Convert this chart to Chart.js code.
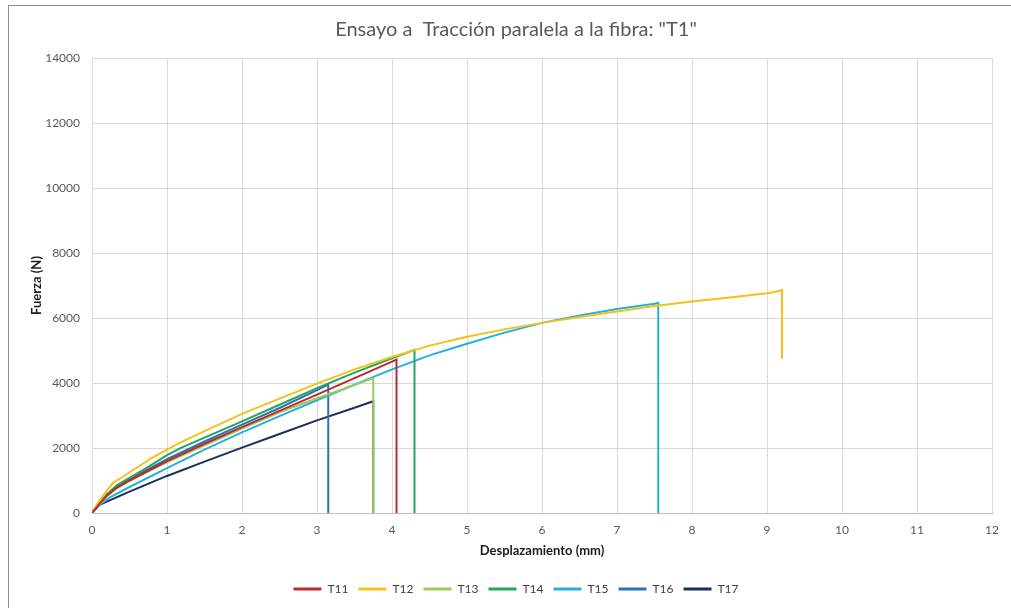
<!DOCTYPE html>
<html>
<head>
<meta charset="utf-8">
<title>Ensayo a Tracción paralela a la fibra</title>
<script src="https://cdn.jsdelivr.net/npm/chart.js@4.4.1/dist/chart.umd.min.js"></script>
<style>
    html, body { margin: 0; padding: 0; background: #fff; }
    #wrap { position: relative; width: 1011px; height: 608px; overflow: hidden; }
    #frame { position: absolute; left: 8px; top: 5px; width: 1020px; height: 620px; border: 1px solid #8c8c8c; box-sizing: border-box; }
    #chartBox { position: absolute; left: 0; top: 0; width: 1011px; height: 608px; }
</style>
</head>
<body>
<div id="wrap">
    <div id="frame"></div>
    <div id="chartBox"><canvas id="traccionChart"></canvas></div>
</div>
<script>
// Datos (desplazamiento en mm, fuerza en N)
const seriesNames = ['T11', 'T12', 'T13', 'T14', 'T15', 'T16', 'T17'];

const t11X = [0, 0.1, 0.2, 0.33, 0.5, 0.75, 1, 1.5, 2, 2.5, 3, 3.5, 4, 4.06, 4.06];
const t11Y = [0, 280, 540, 780, 1000, 1300, 1600, 2130, 2640, 3140, 3640, 4150, 4660, 4720, 0];

const t12X = [0, 0.1, 0.2, 0.28, 0.4, 0.6, 0.8, 1, 1.17, 1.5, 2, 2.5, 3, 3.5, 4, 4.5, 5, 5.5, 6, 6.5, 7, 7.5, 8, 8.5, 9, 9.05, 9.2, 9.2];
const t12Y = [0, 380, 700, 930, 1100, 1400, 1700, 1950, 2160, 2520, 3050, 3520, 3980, 4420, 4800, 5150, 5420, 5650, 5850, 6030, 6200, 6370, 6510, 6630, 6760, 6780, 6860, 4740];

const t13X = [0, 0.1, 0.2, 0.33, 0.5, 0.75, 1, 1.5, 2, 2.5, 3, 3.5, 3.75, 3.75];
const t13Y = [0, 270, 520, 760, 980, 1280, 1560, 2080, 2600, 3100, 3530, 3940, 4150, 0];

const t14X = [0, 0.1, 0.2, 0.33, 0.5, 0.75, 1, 1.2, 1.5, 2, 2.5, 3, 3.5, 4, 4.3, 4.3];
const t14Y = [0, 300, 580, 850, 1080, 1420, 1780, 2020, 2320, 2820, 3330, 3840, 4320, 4760, 5020, 0];

const t15X = [0, 0.1, 0.25, 0.5, 1, 1.5, 2, 2.5, 3, 3.5, 4, 4.5, 5, 5.5, 6, 6.5, 7, 7.5, 7.55, 7.55];
const t15Y = [0, 250, 500, 800, 1380, 1950, 2480, 2980, 3470, 3950, 4420, 4850, 5210, 5550, 5850, 6080, 6280, 6440, 6470, 0];

const t16X = [0, 0.1, 0.2, 0.33, 0.5, 0.75, 1, 1.5, 2, 2.5, 3, 3.15, 3.15];
const t16Y = [0, 290, 560, 800, 1030, 1350, 1660, 2200, 2720, 3230, 3780, 3950, 0];

const t17X = [0, 0.1, 0.5, 1, 1.5, 2, 2.5, 3, 3.5, 3.75, 3.75];
const t17Y = [0, 250, 660, 1140, 1580, 2010, 2430, 2850, 3240, 3440, 0];

const seriesColors = ['#C0282E', '#F5C018', '#9CCB5B', '#22A55E', '#25B0DA', '#2C73B5', '#1B2F5E'];

const xTicks = [0, 1, 2, 3, 4, 5, 6, 7, 8, 9, 10, 11, 12];
const yTicks = [0, 2000, 4000, 6000, 8000, 10000, 12000, 14000];

const FONT = 'Lato, "Open Sans", sans-serif';

// Une los arrays x / y en puntos para Chart.js
function toPoints(xs, ys) {
    return xs.map((x, i) => ({ x: x, y: ys[i] }));
}

const allX = [t11X, t12X, t13X, t14X, t15X, t16X, t17X];
const allY = [t11Y, t12Y, t13Y, t14Y, t15Y, t16Y, t17Y];

const datasets = seriesNames.map((name, i) => ({
    label: name,
    data: toPoints(allX[i], allY[i]),
    borderColor: seriesColors[i],
    backgroundColor: seriesColors[i],
    borderWidth: 2,
    pointRadius: 0,
    tension: 0,
    fill: false
}));

const ctx = document.getElementById('traccionChart').getContext('2d');
new Chart(ctx, {
    type: 'line',
    data: { datasets: datasets },
    options: {
        responsive: true,
        maintainAspectRatio: false,
        animation: false,
        // padding izquierdo grande para centrar el título como en el original
        layout: { padding: { left: 40, right: 19, top: 10, bottom: 3 } },
        plugins: {
            title: {
                display: true,
                text: 'Ensayo a  Tracción paralela a la fibra: "T1"',
                color: '#595959',
                font: { family: FONT, size: 20, weight: 'normal' },
                padding: { top: 8, bottom: 16 }
            },
            legend: {
                position: 'bottom',
                labels: {
                    usePointStyle: true,
                    pointStyle: 'line',
                    pointStyleWidth: 28,
                    padding: 10,
                    color: '#404040',
                    font: { family: FONT, size: 12 },
                    generateLabels: chart => {
                        const items = Chart.defaults.plugins.legend.labels.generateLabels(chart);
                        items.forEach(it => { it.lineWidth = 3; it.pointStyle = 'line'; });
                        return items;
                    }
                }
            },
            tooltip: { enabled: false }
        },
        scales: {
            x: {
                type: 'linear',
                min: 0,
                max: 12,
                afterBuildTicks: s => { s.ticks = xTicks.map(v => ({ value: v })); },
                afterFit: s => { s.height = 60; },
                grid: { color: '#D9D9D9', drawTicks: false },
                border: { color: '#BFBFBF' },
                ticks: { color: '#595959', padding: 10, font: { family: FONT, size: 12 }, callback: v => String(v) },
                title: {
                    display: true,
                    text: 'Desplazamiento (mm)',
                    color: '#1a1a1a',
                    font: { family: FONT, size: 13, weight: 'bold' },
                    padding: { top: 4, bottom: 14 }
                }
            },
            y: {
                min: 0,
                max: 14000,
                afterBuildTicks: s => { s.ticks = yTicks.map(v => ({ value: v })); },
                afterFit: s => { s.width = 52; },
                grid: { color: '#D9D9D9', drawTicks: false },
                border: { color: '#D9D9D9' },
                ticks: { color: '#595959', padding: 12, font: { family: FONT, size: 12 }, callback: v => String(v) },
                title: {
                    display: true,
                    text: 'Fuerza (N)',
                    color: '#1a1a1a',
                    font: { family: FONT, size: 13, weight: 'bold' },
                    padding: { top: -11, bottom: 4 }
                }
            }
        }
    }
});
</script>
</body>
</html>
